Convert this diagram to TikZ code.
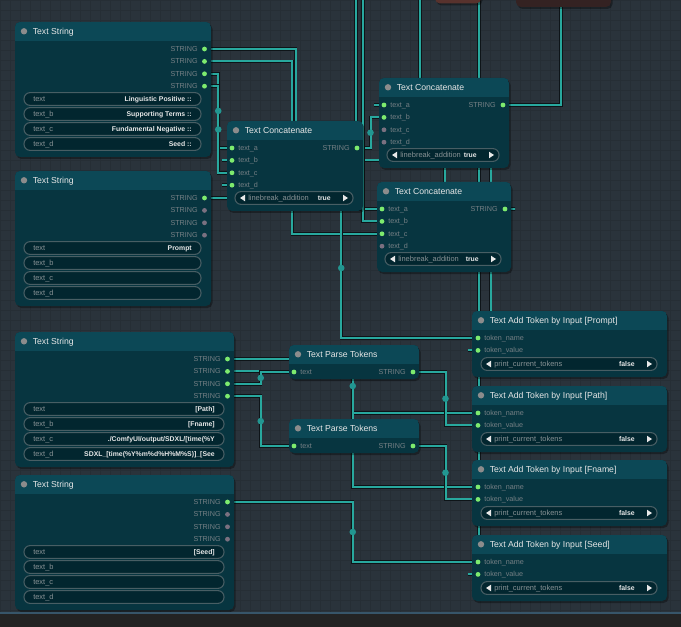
\documentclass[tikz,border=0pt]{standalone}
\usepackage{fontspec}
\setmainfont{Liberation Sans}
\usetikzlibrary{calc,fit}
\definecolor{bgc}{RGB}{42,51,59}
\definecolor{gridc}{RGB}{38,46,53}
\definecolor{nhead}{RGB}{12,72,86}
\definecolor{nbody}{RGB}{7,53,64}
\definecolor{wfill}{RGB}{2,38,47}
\definecolor{wborder}{RGB}{72,94,100}
\definecolor{titlec}{RGB}{230,230,230}
\definecolor{slotc}{RGB}{118,128,133}
\definecolor{wlabc}{RGB}{135,145,148}
\definecolor{wvalc}{RGB}{232,232,232}
\definecolor{onc}{RGB}{125,235,110}
\definecolor{offc}{RGB}{122,112,128}
\definecolor{tdotc}{RGB}{140,140,140}
\definecolor{wirecol}{RGB}{40,168,158}
\definecolor{wireout}{RGB}{14,20,24}
\definecolor{wdotc}{RGB}{34,150,145}
\definecolor{brownc}{RGB}{88,50,45}
\definecolor{darkbc}{RGB}{52,34,34}
\definecolor{barc}{RGB}{35,35,35}
\definecolor{barline}{RGB}{55,85,105}

\pgfdeclarelayer{bglayer}
\pgfdeclarelayer{wirelayer}
\pgfsetlayers{bglayer,wirelayer,main}

\tikzset{
  ttl/.style={anchor=west,inner sep=0pt,text=titlec,font=\fontsize{6.5pt}{7pt}\selectfont,text height=4.65pt,text depth=0pt},
  slotlab/.style={anchor=west,inner sep=0pt,text=slotc,font=\fontsize{5.4pt}{6pt}\selectfont,text height=3.87pt,text depth=0pt},
  wlab/.style={anchor=west,inner sep=0pt,text=wlabc,font=\fontsize{5.6pt}{6pt}\selectfont,text height=4pt,text depth=0pt},
  wval/.style={anchor=east,inner sep=0pt,text=wvalc,font=\bfseries\fontsize{5.15pt}{6pt}\selectfont,text height=3.7pt,text depth=0pt},
  pill/.style={draw=wborder,fill=wfill,line width=0.8pt,rounded corners=4.6pt},
  wireo/.style={draw=wireout,line width=2.6pt},
  wirec/.style={draw=wirecol,line width=1.5pt},
  shadowc/.style={fill=black,fill opacity=0.35},
}

\newcommand\gnodebox[6]{%
  \fill[shadowc,rounded corners=3.75pt] (#2+1.5,#3+2) rectangle (#4+1.5,#5+2);
  \node[fit={(#2,#3) (#4,#5)},inner sep=0pt,fill=nbody,rounded corners=3.75pt] (#1) {};
  \begin{scope}
    \clip[rounded corners=3.75pt] (#2,#3) rectangle (#4,#5);
    \fill[nhead] (#2,#3) rectangle (#4,#3+18.6);
  \end{scope}
  \fill[tdotc] (#2+9,#3+9.3) circle (3.2);
  \node[ttl] (#1t) at (#2+17.5,#3+9.3) {#6};
}
\newcommand\wbox[6]{%
  \draw[pill] (#2,#4-6.4) rectangle (#3,#4+6.4);
  \node[wlab] (#1l) at (#2+9,#4) {#5};
  \node[wval] (#1v) at (#3-9,#4) {#6};
}
\newcommand\combo[6]{%
  \draw[pill] (#2,#4-6.4) rectangle (#3,#4+6.4);
  \fill[wvalc] (#2+5,#4) -- (#2+10,#4-3.3) -- (#2+10,#4+3.3) -- cycle;
  \fill[wvalc] (#3-5,#4) -- (#3-10,#4-3.3) -- (#3-10,#4+3.3) -- cycle;
  \node[wlab] (#1l) at (#2+13,#4) {#5};
  \node[wval] (#1v) at (#3-22,#4) {#6};
}
\newcommand\tstring[8]{%
  \gnodebox{#1}{#2}{#3}{#4}{#3+135}{Text String}
  \foreach \k in {1,2,3,4}{
    \coordinate (#1o\k) at (#4-6.5,#3+14.6+12.4*\k);
    \node[slotlab,anchor=east] (#1s\k) at (#4-13,#3+14.6+12.4*\k) {STRING};
  }
  \wbox{#1a}{#2+9}{#4-10}{#3+77}{text}{#5}
  \wbox{#1b}{#2+9}{#4-10}{#3+92}{text\_b}{#6}
  \wbox{#1c}{#2+9}{#4-10}{#3+107}{text\_c}{#7}
  \wbox{#1d}{#2+9}{#4-10}{#3+122}{text\_d}{#8}
}
\newcommand\tconcat[4]{%
  \gnodebox{#1}{#2}{#3}{#4}{#3+90}{Text Concatenate}
  \foreach \k/\l in {1/a,2/b,3/c,4/d}{
    \coordinate (#1i\k) at (#2+5,#3+14.6+12.4*\k);
    \node[slotlab] (#1l\k) at (#2+11,#3+14.6+12.4*\k) {text\_\l};
  }
  \coordinate (#1o) at (#4-6,#3+27);
  \node[slotlab,anchor=east] (#1s) at (#4-13,#3+27) {STRING};
  \combo{#1w}{#2+8}{#4-10}{#3+77}{linebreak\_addition}{true}
}
\newcommand\tparse[4]{%
  \gnodebox{#1}{#2}{#3}{#4}{#3+34}{Text Parse Tokens}
  \coordinate (#1i) at (#2+5,#3+27);
  \node[slotlab] (#1l) at (#2+11,#3+27) {text};
  \coordinate (#1o) at (#4-6,#3+27);
  \node[slotlab,anchor=east] (#1s) at (#4-13,#3+27) {STRING};
}
\newcommand\taddtok[5]{%
  \gnodebox{#1}{#2}{#3}{#4}{#3+66}{Text Add Token by Input [#5]}
  \coordinate (#1i1) at (#2+6,#3+27);
  \node[slotlab] (#1l1) at (#2+12,#3+27) {token\_name};
  \coordinate (#1i2) at (#2+6,#3+39.4);
  \node[slotlab] (#1l2) at (#2+12,#3+39.4) {token\_value};
  \combo{#1w}{#2+9}{#4-10}{#3+53}{print\_current\_tokens}{false}
}
\newcommand\wire[3][0]{%
  \draw[wireo] (#2) -- ++(10,0) -| ($(#2)!.5!(#3)+(#1,0)$) |- ($(#3)+(-10,0)$) -- (#3);
  \draw[wirec] (#2) -- ++(10,0) -| ($(#2)!.5!(#3)+(#1,0)$) |- ($(#3)+(-10,0)$) -- (#3);
}
\newcommand\wdot[2]{\fill[wdotc] ($(#1)!.5!(#2)$) circle (3.3);}

\begin{document}
\begin{tikzpicture}[x=0.75pt,y=-0.75pt]
\useasboundingbox (0,0) rectangle (681,627);
\begin{pgfonlayer}{bglayer}
  \fill[bgc] (0,0) rectangle (681,627);
  \foreach \g in {0,10,...,680} \draw[gridc,line width=0.35pt] (\g,0) -- (\g,613);
  \foreach \g in {0,10,...,610} \draw[gridc,line width=0.35pt] (0,\g) -- (681,\g);
\end{pgfonlayer}

% partial nodes at the top edge
\fill[shadowc,rounded corners=3.75pt] (436.5,-20) rectangle (482.5,5.5);
\node[fit={(435,-20) (481,3.5)},inner sep=0pt,fill=brownc,rounded corners=3.75pt] (topa) {};
\fill[shadowc,rounded corners=3.75pt] (517.5,-20) rectangle (612.5,9);
\node[fit={(516,-20) (611,7)},inner sep=0pt,fill=darkbc,rounded corners=3.75pt] (topb) {};
\coordinate (topaout) at (480,-300);
\coordinate (topbout) at (608,-300);
\coordinate (topbin) at (619,-300);
\coordinate (topcout) at (344,-300);

\tstring{n1}{15}{22}{211}{Linguistic Positive ::}{Supporting Terms ::}{Fundamental Negative ::}{Seed ::}
\tstring{n2}{15}{171}{211}{Prompt}{}{}{}
\tstring{n3}{15}{332}{234}{[Path]}{[Fname]}{./ComfyUI/output/SDXL/[time(\%Y}{SDXL\_[time(\%Y\%m\%d\%H\%M\%S)]\_[See}
\tstring{n4}{15}{475}{234}{[Seed]}{}{}{}
\tconcat{n5}{227}{121}{363}
\tconcat{n6}{379}{78}{509}
\tconcat{n7}{377}{182}{511}
\tparse{n8}{289}{345}{419}
\tparse{n9}{289}{419}{419}
\taddtok{n10}{472}{311}{667}{Prompt}
\taddtok{n11}{472}{386}{667}{Path}
\taddtok{n12}{472}{460}{667}{Fname}
\taddtok{n13}{472}{535}{667}{Seed}

\foreach \c in {n1o1,n1o2,n1o3,n1o4,n2o1,n3o1,n3o2,n3o3,n3o4,n4o1,n5i1,n5i2,n5i3,n5i4,n5o,n6i1,n6i2,n6o,n7i1,n7i2,n7i3,n7o,n8i,n8o,n9i,n9o,n10i1,n10i2,n11i1,n11i2,n12i1,n12i2,n13i1,n13i2}
  \fill[onc] (\c) circle (2.4);
\foreach \c in {n2o2,n2o3,n2o4,n4o2,n4o3,n4o4,n6i3,n6i4,n7i4}
  \fill[offc] (\c) circle (2.4);

\begin{pgfonlayer}{wirelayer}
  \wire[-1]{n1o2}{n7i3}
  \wire[2.5]{n1o1}{n7i1}
  \wire{n1o3}{n5i1}
  \wire{n1o4}{n5i3}
  \wire{n2o1}{n10i1}
  \wire{n5o}{n6i2}
  \wire{n7o}{n6i1}
  \wire{n6o}{n10i2}
  \wire{n6o}{topbin}
  \wire{topaout}{n5i4}
  \wire{topaout}{n13i2}
  \wire{topbout}{n5i2}
  \wire{topcout}{n7i2}
  \wire{n3o1}{n11i1}
  \wire{n3o2}{n12i1}
  \wire{n3o3}{n8i}
  \wire{n3o4}{n9i}
  \wire{n4o1}{n13i1}
  \wire{n8o}{n11i2}
  \wire{n9o}{n12i2}
  \wdot{n1o3}{n5i1}
  \wdot{n1o4}{n5i3}
  \wdot{n2o1}{n10i1}
  \wdot{n5o}{n6i2}
  \wdot{n3o1}{n11i1}
  \wdot{n3o3}{n8i}
  \wdot{n3o4}{n9i}
  \wdot{n4o1}{n13i1}
  \wdot{n8o}{n11i2}
  \wdot{n9o}{n12i2}
\end{pgfonlayer}

% bottom bar
\fill[barc] (0,613) rectangle (681,627);
\draw[barline,line width=1pt] (0,613) -- (681,613);
\end{tikzpicture}
\end{document}
